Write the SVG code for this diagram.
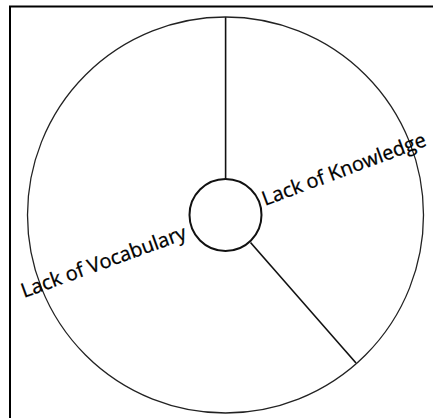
<svg xmlns="http://www.w3.org/2000/svg" width="433" height="418" viewBox="0 0 433 418">
<style>
.frame{fill:none;stroke:#000;stroke-width:2}
.ring{fill:none;stroke:#222;stroke-width:1.3}
.hub{fill:#fff;stroke:#111;stroke-width:2}
.line{stroke:#111;stroke-width:1.6;fill:none}
.lbl{font-family:"Open Sans","DejaVu Sans",sans-serif;font-size:20px;fill:#000;stroke:#000;stroke-width:0.3}
</style>
<rect width="433" height="418" fill="#fff"/>
<path class="frame" d="M10,420 V6.5 H440"/>
<g id="connectors">
<line class="line" x1="225.6" y1="17" x2="225.6" y2="179"/>
<line class="line" x1="250.5" y1="242.5" x2="356" y2="363"/>
</g>
<g id="outer"><circle class="ring" cx="225.5" cy="215" r="198"/></g>
<g id="hub"><circle class="hub" cx="225.5" cy="215" r="36"/></g>
<g id="knowledge"><text class="lbl" transform="translate(265,206) rotate(-20.5)">Lack of Knowledge</text></g>
<g id="vocabulary"><text class="lbl" transform="translate(24,298) rotate(-20)">Lack of Vocabulary</text></g>
</svg>
